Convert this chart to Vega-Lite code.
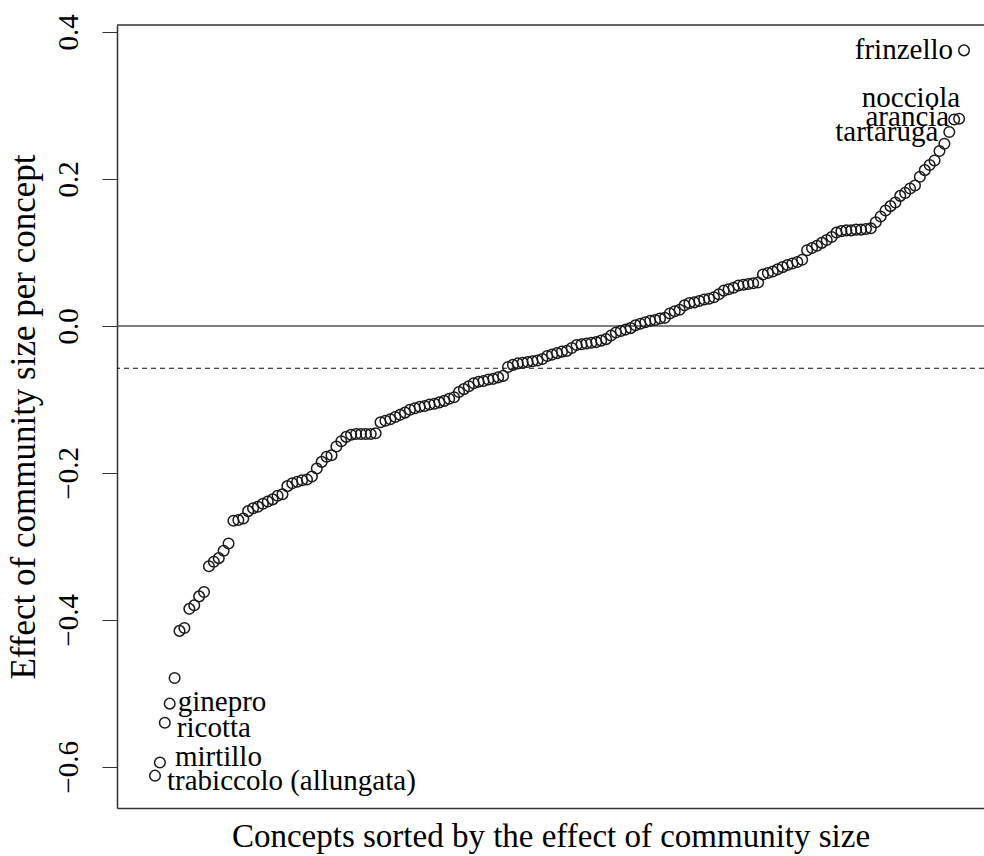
{
  "$schema": "https://vega.github.io/schema/vega-lite/v6.json",
  "autosize": {"type": "none"},
  "padding": {"left": 117, "top": 25, "right": 0, "bottom": 48},
  "width": 867,
  "height": 783,
  "background": "white",
  "config": {"view": {"stroke": null}, "font": "Liberation Serif", "text": {"font": "Liberation Serif"}, "axis": {"labelFont": "Liberation Serif", "titleFont": "Liberation Serif"}},
  "data": {"values": [
    {"rank": 1, "effect": -0.612, "label": "trabiccolo (allungata)"},
    {"rank": 2, "effect": -0.594, "label": "mirtillo"},
    {"rank": 3, "effect": -0.540, "label": "ricotta"},
    {"rank": 4, "effect": -0.514, "label": "ginepro"},
    {"rank": 5, "effect": -0.479},
    {"rank": 6, "effect": -0.415},
    {"rank": 7, "effect": -0.411},
    {"rank": 8, "effect": -0.385},
    {"rank": 9, "effect": -0.380},
    {"rank": 10, "effect": -0.368},
    {"rank": 11, "effect": -0.362},
    {"rank": 12, "effect": -0.327},
    {"rank": 13, "effect": -0.321},
    {"rank": 14, "effect": -0.316},
    {"rank": 15, "effect": -0.306},
    {"rank": 16, "effect": -0.296},
    {"rank": 17, "effect": -0.265},
    {"rank": 18, "effect": -0.264},
    {"rank": 19, "effect": -0.262},
    {"rank": 20, "effect": -0.252},
    {"rank": 21, "effect": -0.248},
    {"rank": 22, "effect": -0.246},
    {"rank": 23, "effect": -0.242},
    {"rank": 24, "effect": -0.239},
    {"rank": 25, "effect": -0.236},
    {"rank": 26, "effect": -0.231},
    {"rank": 27, "effect": -0.229},
    {"rank": 28, "effect": -0.218},
    {"rank": 29, "effect": -0.214},
    {"rank": 30, "effect": -0.212},
    {"rank": 31, "effect": -0.210},
    {"rank": 32, "effect": -0.209},
    {"rank": 33, "effect": -0.205},
    {"rank": 34, "effect": -0.194},
    {"rank": 35, "effect": -0.185},
    {"rank": 36, "effect": -0.178},
    {"rank": 37, "effect": -0.176},
    {"rank": 38, "effect": -0.164},
    {"rank": 39, "effect": -0.157},
    {"rank": 40, "effect": -0.151},
    {"rank": 41, "effect": -0.148},
    {"rank": 42, "effect": -0.147},
    {"rank": 43, "effect": -0.147},
    {"rank": 44, "effect": -0.147},
    {"rank": 45, "effect": -0.147},
    {"rank": 46, "effect": -0.146},
    {"rank": 47, "effect": -0.131},
    {"rank": 48, "effect": -0.129},
    {"rank": 49, "effect": -0.127},
    {"rank": 50, "effect": -0.124},
    {"rank": 51, "effect": -0.121},
    {"rank": 52, "effect": -0.118},
    {"rank": 53, "effect": -0.114},
    {"rank": 54, "effect": -0.112},
    {"rank": 55, "effect": -0.110},
    {"rank": 56, "effect": -0.109},
    {"rank": 57, "effect": -0.107},
    {"rank": 58, "effect": -0.106},
    {"rank": 59, "effect": -0.104},
    {"rank": 60, "effect": -0.102},
    {"rank": 61, "effect": -0.099},
    {"rank": 62, "effect": -0.097},
    {"rank": 63, "effect": -0.090},
    {"rank": 64, "effect": -0.086},
    {"rank": 65, "effect": -0.082},
    {"rank": 66, "effect": -0.078},
    {"rank": 67, "effect": -0.076},
    {"rank": 68, "effect": -0.075},
    {"rank": 69, "effect": -0.073},
    {"rank": 70, "effect": -0.072},
    {"rank": 71, "effect": -0.070},
    {"rank": 72, "effect": -0.068},
    {"rank": 73, "effect": -0.056},
    {"rank": 74, "effect": -0.053},
    {"rank": 75, "effect": -0.051},
    {"rank": 76, "effect": -0.050},
    {"rank": 77, "effect": -0.049},
    {"rank": 78, "effect": -0.048},
    {"rank": 79, "effect": -0.047},
    {"rank": 80, "effect": -0.045},
    {"rank": 81, "effect": -0.041},
    {"rank": 82, "effect": -0.039},
    {"rank": 83, "effect": -0.037},
    {"rank": 84, "effect": -0.035},
    {"rank": 85, "effect": -0.034},
    {"rank": 86, "effect": -0.030},
    {"rank": 87, "effect": -0.026},
    {"rank": 88, "effect": -0.025},
    {"rank": 89, "effect": -0.024},
    {"rank": 90, "effect": -0.023},
    {"rank": 91, "effect": -0.022},
    {"rank": 92, "effect": -0.020},
    {"rank": 93, "effect": -0.018},
    {"rank": 94, "effect": -0.013},
    {"rank": 95, "effect": -0.009},
    {"rank": 96, "effect": -0.007},
    {"rank": 97, "effect": -0.005},
    {"rank": 98, "effect": -0.003},
    {"rank": 99, "effect": 0.001},
    {"rank": 100, "effect": 0.003},
    {"rank": 101, "effect": 0.005},
    {"rank": 102, "effect": 0.007},
    {"rank": 103, "effect": 0.008},
    {"rank": 104, "effect": 0.010},
    {"rank": 105, "effect": 0.011},
    {"rank": 106, "effect": 0.017},
    {"rank": 107, "effect": 0.020},
    {"rank": 108, "effect": 0.022},
    {"rank": 109, "effect": 0.028},
    {"rank": 110, "effect": 0.031},
    {"rank": 111, "effect": 0.032},
    {"rank": 112, "effect": 0.034},
    {"rank": 113, "effect": 0.036},
    {"rank": 114, "effect": 0.037},
    {"rank": 115, "effect": 0.039},
    {"rank": 116, "effect": 0.043},
    {"rank": 117, "effect": 0.048},
    {"rank": 118, "effect": 0.050},
    {"rank": 119, "effect": 0.052},
    {"rank": 120, "effect": 0.055},
    {"rank": 121, "effect": 0.056},
    {"rank": 122, "effect": 0.057},
    {"rank": 123, "effect": 0.058},
    {"rank": 124, "effect": 0.059},
    {"rank": 125, "effect": 0.070},
    {"rank": 126, "effect": 0.072},
    {"rank": 127, "effect": 0.074},
    {"rank": 128, "effect": 0.077},
    {"rank": 129, "effect": 0.080},
    {"rank": 130, "effect": 0.083},
    {"rank": 131, "effect": 0.085},
    {"rank": 132, "effect": 0.087},
    {"rank": 133, "effect": 0.090},
    {"rank": 134, "effect": 0.103},
    {"rank": 135, "effect": 0.106},
    {"rank": 136, "effect": 0.109},
    {"rank": 137, "effect": 0.113},
    {"rank": 138, "effect": 0.117},
    {"rank": 139, "effect": 0.121},
    {"rank": 140, "effect": 0.127},
    {"rank": 141, "effect": 0.129},
    {"rank": 142, "effect": 0.130},
    {"rank": 143, "effect": 0.130},
    {"rank": 144, "effect": 0.131},
    {"rank": 145, "effect": 0.131},
    {"rank": 146, "effect": 0.132},
    {"rank": 147, "effect": 0.133},
    {"rank": 148, "effect": 0.141},
    {"rank": 149, "effect": 0.149},
    {"rank": 150, "effect": 0.157},
    {"rank": 151, "effect": 0.163},
    {"rank": 152, "effect": 0.168},
    {"rank": 153, "effect": 0.177},
    {"rank": 154, "effect": 0.181},
    {"rank": 155, "effect": 0.187},
    {"rank": 156, "effect": 0.191},
    {"rank": 157, "effect": 0.203},
    {"rank": 158, "effect": 0.212},
    {"rank": 159, "effect": 0.219},
    {"rank": 160, "effect": 0.225},
    {"rank": 161, "effect": 0.238},
    {"rank": 162, "effect": 0.248},
    {"rank": 163, "effect": 0.264, "label": "tartaruga"},
    {"rank": 164, "effect": 0.281, "label": "arancia"},
    {"rank": 165, "effect": 0.282, "label": "nocciola"},
    {"rank": 166, "effect": 0.375, "label": "frinzello"}
  ]},
  "layer": [
    {
      "data": {"values": [{}]},
      "mark": {"type": "rule", "color": "#333333", "strokeWidth": 1.5},
      "encoding": {"y": {"datum": 0.4095, "type": "quantitative"}}
    },
    {
      "data": {"values": [{}]},
      "mark": {"type": "rule", "color": "#555555", "strokeWidth": 1.5},
      "encoding": {"y": {"datum": 0, "type": "quantitative"}}
    },
    {
      "data": {"values": [{}]},
      "mark": {"type": "rule", "color": "#111111", "strokeWidth": 1, "strokeDash": [5, 4]},
      "encoding": {"y": {"datum": -0.0576, "type": "quantitative"}}
    },
    {
      "mark": {"type": "point", "shape": "circle", "filled": false, "stroke": "#1a1a1a", "strokeWidth": 1.5, "size": 112, "opacity": 1},
      "encoding": {
        "x": {
          "field": "rank", "type": "quantitative",
          "scale": {"domain": [-6.75, 170.08], "nice": false, "zero": false},
          "axis": {
            "title": "Concepts sorted by the effect of community size",
            "labels": false, "ticks": false, "grid": false,
            "domain": true, "domainColor": "#333333", "domainWidth": 1.5,
            "titleFontSize": 33, "titleFontWeight": "normal", "titleColor": "black",
            "titlePadding": 12
          }
        },
        "y": {
          "field": "effect", "type": "quantitative",
          "scale": {"domain": [-0.656, 0.4095], "nice": false, "zero": false},
          "axis": {
            "title": "Effect of community size per concept",
            "values": [-0.6, -0.4, -0.2, 0, 0.2, 0.4],
            "format": ".1f",
            "grid": false,
            "domain": true, "domainColor": "#333333", "domainWidth": 1.5,
            "tickSize": 15, "tickColor": "#333333", "tickWidth": 1,
            "labelAngle": 270, "labelAlign": "center", "labelBaseline": "alphabetic",
            "labelPadding": 25, "labelFontSize": 29, "labelColor": "black",
            "titleFontSize": 35, "titleFontWeight": "normal", "titleColor": "black",
            "titlePadding": 13
          }
        }
      }
    },
    {
      "transform": [{"filter": {"field": "label", "oneOf": ["frinzello", "tartaruga"]}}],
      "mark": {"type": "text", "align": "right", "baseline": "middle", "dx": -11, "dy": 0, "fontSize": 29, "color": "black"},
      "encoding": {"x": {"field": "rank", "type": "quantitative"}, "y": {"field": "effect", "type": "quantitative"}, "text": {"field": "label"}}
    },
    {
      "transform": [{"filter": {"field": "label", "equal": "arancia"}}],
      "mark": {"type": "text", "align": "right", "baseline": "middle", "dx": -5, "dy": -2, "fontSize": 29, "color": "black"},
      "encoding": {"x": {"field": "rank", "type": "quantitative"}, "y": {"field": "effect", "type": "quantitative"}, "text": {"field": "label"}}
    },
    {
      "transform": [{"filter": {"field": "label", "equal": "nocciola"}}],
      "mark": {"type": "text", "align": "right", "baseline": "middle", "dx": 1, "dy": -21, "fontSize": 29, "color": "black"},
      "encoding": {"x": {"field": "rank", "type": "quantitative"}, "y": {"field": "effect", "type": "quantitative"}, "text": {"field": "label"}}
    },
    {
      "transform": [{"filter": {"field": "label", "equal": "ginepro"}}],
      "mark": {"type": "text", "align": "left", "baseline": "middle", "dx": 8, "dy": -2, "fontSize": 29, "color": "black"},
      "encoding": {"x": {"field": "rank", "type": "quantitative"}, "y": {"field": "effect", "type": "quantitative"}, "text": {"field": "label"}}
    },
    {
      "transform": [{"filter": {"field": "label", "oneOf": ["ricotta", "trabiccolo (allungata)"]}}],
      "mark": {"type": "text", "align": "left", "baseline": "middle", "dx": 12, "dy": 5, "fontSize": 29, "color": "black"},
      "encoding": {"x": {"field": "rank", "type": "quantitative"}, "y": {"field": "effect", "type": "quantitative"}, "text": {"field": "label"}}
    },
    {
      "transform": [{"filter": {"field": "label", "equal": "mirtillo"}}],
      "mark": {"type": "text", "align": "left", "baseline": "middle", "dx": 15, "dy": -5, "fontSize": 29, "color": "black"},
      "encoding": {"x": {"field": "rank", "type": "quantitative"}, "y": {"field": "effect", "type": "quantitative"}, "text": {"field": "label"}}
    }
  ]
}
